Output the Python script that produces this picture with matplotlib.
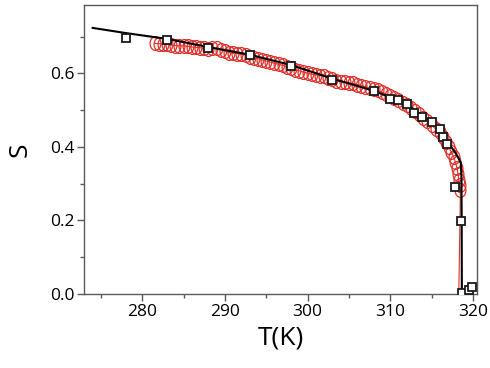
import numpy as np
import matplotlib
matplotlib.use("Agg")
from matplotlib import pyplot as plt
from matplotlib.path import Path
from matplotlib.ticker import MultipleLocator

# Order parameter data: red open circles (measured), black squares, black fit line
T_circ = [281.5, 282.0, 282.5, 283.0, 283.5, 284.0, 284.5, 285.0, 285.5, 286.0,
          286.5, 287.0, 287.5, 288.0, 288.5, 289.0, 289.5, 290.0, 290.5, 291.0,
          291.5, 292.0, 292.5, 293.0, 293.5, 294.0, 294.5, 295.0, 295.5, 296.0,
          296.5, 297.0, 297.5, 298.0, 298.5, 299.0, 299.5, 300.0, 300.5, 301.0,
          301.5, 302.0, 302.5, 303.0, 303.5, 304.0, 304.5, 305.0, 305.5, 306.0,
          306.5, 307.0, 307.5, 308.0, 308.5, 309.0, 309.5, 310.0, 310.5, 311.0,
          311.5, 312.0, 312.5, 313.0, 313.5, 314.0, 314.5, 315.0, 315.5, 316.0,
          316.4, 316.8, 317.1, 317.4, 317.7, 317.9, 318.1, 318.2, 318.3, 318.4,
          318.5]
S_circ = [0.682, 0.681, 0.680, 0.679, 0.677, 0.676, 0.675, 0.675, 0.674, 0.672,
          0.671, 0.670, 0.668, 0.667, 0.668, 0.668, 0.665, 0.660, 0.657, 0.655,
          0.654, 0.652, 0.650, 0.646, 0.643, 0.640, 0.637, 0.634, 0.631, 0.628,
          0.625, 0.622, 0.618, 0.614, 0.610, 0.607, 0.604, 0.601, 0.598, 0.596,
          0.594, 0.592, 0.589, 0.585, 0.580, 0.577, 0.576, 0.575, 0.573, 0.570,
          0.567, 0.564, 0.561, 0.558, 0.554, 0.549, 0.544, 0.539, 0.533, 0.527,
          0.520, 0.513, 0.506, 0.498, 0.489, 0.480, 0.470, 0.460, 0.449, 0.440,
          0.428, 0.414, 0.400, 0.386, 0.372, 0.358, 0.342, 0.326, 0.310, 0.296,
          0.283]
# red fit continues down to zero
T_red_end = [318.3]
S_red_end = [0.0]

T_sq = [278.0, 283.0, 288.0, 293.0, 298.0, 303.0, 308.0, 310.0, 311.0, 312.0,
        312.9, 313.9, 315.0, 316.0, 316.4, 316.9, 317.9, 318.55, 318.7, 319.5,
        319.9]
S_sq = [0.696, 0.690, 0.670, 0.650, 0.620, 0.582, 0.552, 0.531, 0.528, 0.517,
        0.492, 0.482, 0.469, 0.448, 0.428, 0.407, 0.291, 0.199, 0.002, 0.010,
        0.019]

T_fit = [274.0, 278.0, 283.0, 288.0, 293.0, 298.0, 303.0, 308.0, 310.0, 312.0,
         313.0, 314.0, 315.0, 316.0, 317.0, 317.9, 318.3, 318.55, 318.62, 318.65,
         318.67]
S_fit = [0.724, 0.710, 0.694, 0.672, 0.651, 0.623, 0.586, 0.553, 0.535, 0.516,
         0.500, 0.485, 0.468, 0.447, 0.412, 0.384, 0.368, 0.357, 0.320, 0.200,
         0.000]

x_ticks = [280, 290, 300, 310, 320]
y_ticks = [0.0, 0.2, 0.4, 0.6]

plt.rcParams['font.family'] = ['Open Sans', 'DejaVu Sans']

# slightly tall ellipse used for the red circles
ell = Path.unit_circle()
ell = Path(ell.vertices * np.array([0.78, 1.0]), ell.codes)

fig = plt.figure(figsize=(4.9, 3.68), dpi=100)
ax = fig.add_axes([0.1714, 0.2011, 0.802, 0.786])

red = '#e0302a'
ax.plot(T_circ + T_red_end, S_circ + S_red_end, color=red, lw=0.8, zorder=2)
ax.plot(T_circ, S_circ, ls='none', marker=ell, ms=10, mfc='none', mec=red,
        mew=0.9, zorder=3)
ax.plot(T_fit, S_fit, color='black', lw=1.5, zorder=4)
ax.plot(T_sq, S_sq, ls='none', marker='s', ms=6.2, mfc='white', mec='#1a1a1a',
        mew=1.3, zorder=5)

ax.set_xlim(272.95, 320.5)
ax.set_ylim(0, 0.787)
ax.set_xticks(x_ticks)
ax.set_yticks(y_ticks)
ax.set_yticklabels(["%.1f" % v for v in y_ticks])
ax.xaxis.set_minor_locator(MultipleLocator(5))
ax.yaxis.set_minor_locator(MultipleLocator(0.1))

gray = '#5a5a5a'
for s in ax.spines.values():
    s.set_color(gray)
    s.set_linewidth(1.0)
ax.tick_params(which='major', direction='out', length=5, width=1.0, color=gray,
               labelsize=12.5, pad=2)
ax.tick_params(which='minor', direction='out', length=3, width=1.0, color=gray)
ax.tick_params(axis='x', which='both', top=False)
ax.tick_params(axis='y', which='both', right=False)

ax.set_xlabel("T(K)", fontsize=19, labelpad=4)
ax.set_ylabel("S", fontsize=19, labelpad=12)

fig.savefig("out.png", dpi=100)
